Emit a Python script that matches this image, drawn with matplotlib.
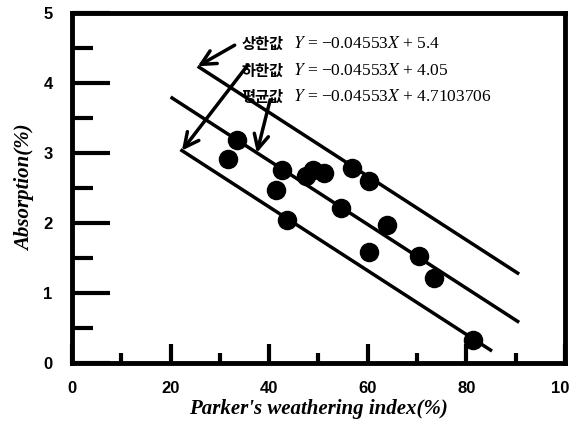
import numpy as np
import matplotlib.pyplot as plt

plt.rcParams['mathtext.fontset'] = 'stix'

# measured samples
weathering = [31.6, 33.4, 41.4, 42.7, 43.7, 47.5, 48.9, 51.1, 54.5, 56.7,
              60.2, 60.3, 63.8, 70.4, 73.5, 81.4]
absorption = [2.92, 3.18, 2.47, 2.75, 2.04, 2.67, 2.76, 2.71, 2.21, 2.78,
              2.60, 1.59, 1.97, 1.53, 1.22, 0.33]

# regression band: common slope, three intercepts
slope = -0.04553
names = ['상한값', '하한값', '평균값']
intercepts = [5.4, 4.05, 4.7103706]
intercept_labels = ['5.4', '4.05', '4.7103706']
x_start = [25.5, 22.0, 20.0]
x_end = [90.7, 85.2, 90.7]
# where each arrow points on its line
arrow_x = [25.5, 22.3, 37.5]

fig = plt.figure(figsize=(5.7, 4.26), dpi=100)
ax = fig.add_axes([0.1263, 0.1479, 0.8649, 0.8216])

for b, x0, x1 in zip(intercepts, x_start, x_end):
    xs = np.array([x0, x1])
    ax.plot(xs, slope * xs + b, color='black', lw=2.5, solid_capstyle='butt')

ax.scatter(weathering, absorption, s=170, color='black', zorder=3)

# labels with arrows
text_y = [4.56, 4.17, 3.80]
arrow_from = [(33.0, 4.54), (35.7, 4.26), (40.2, 3.76)]
for name, b, lab, ty, ax_pt, start in zip(names, intercepts, intercept_labels,
                                          text_y, arrow_x, arrow_from):
    ax.annotate('', xy=(ax_pt, slope * ax_pt + b), xytext=start,
                arrowprops=dict(arrowstyle='->', lw=2.5, color='black',
                                mutation_scale=26, shrinkA=0, shrinkB=0))
    ax.text(34.4, ty, name, fontsize=11, fontweight='bold',
            family='Noto Sans CJK KR', va='center', ha='left')
    ax.text(44.8, ty, r'$Y$ = −0.04553$X$ + ' + lab, fontsize=12.5,
            family='Liberation Serif', va='center', ha='left')

ax.set_xlim(0, 100)
ax.set_ylim(0, 5)
ax.set_xticks([0, 20, 40, 60, 80, 100])
ax.set_xticks(np.arange(10, 100, 20), minor=True)
ax.set_yticks([0, 1, 2, 3, 4, 5])
ax.set_yticks(np.arange(0.5, 5, 1), minor=True)

ax.tick_params(axis='y', which='major', direction='in', length=27, width=3, pad=14)
ax.tick_params(axis='y', which='minor', direction='in', length=15, width=3)
ax.tick_params(axis='x', which='major', direction='in', length=14, width=3, pad=13)
ax.tick_params(axis='x', which='minor', direction='in', length=7, width=3)
for lbl in ax.get_xticklabels() + ax.get_yticklabels():
    lbl.set_family('Liberation Sans')
    lbl.set_fontsize(12)
    lbl.set_fontweight('bold')

for sp in ax.spines.values():
    sp.set_linewidth(3.5)

ax.set_xlabel("Parker's weathering index(%)", family='Liberation Serif',
              fontsize=15, fontweight='bold', style='italic', labelpad=2)
ax.set_ylabel('Absorption(%)', family='Liberation Serif',
              fontsize=15, fontweight='bold', style='italic', labelpad=6)

fig.savefig('out.png', dpi=100)
